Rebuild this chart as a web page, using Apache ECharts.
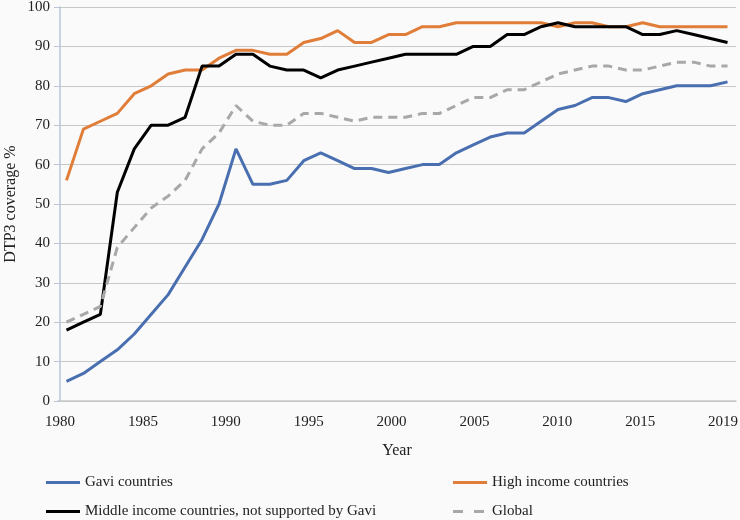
<!DOCTYPE html>
<html>
<head>
<meta charset="utf-8">
<script src="https://cdn.jsdelivr.net/npm/echarts@6/dist/echarts.min.js"></script>
<style>
  html, body { margin: 0; padding: 0; background: #fafafa; }
  #chart { width: 740px; height: 520px; }
</style>
</head>
<body>
<div id="chart"></div>
<script>
// years 1980..2019
var years = []
for (var y = 1980; y <= 2019; y++) years.push(String(y))

var tickLabels = ['1980', '1985', '1990', '1995', '2000', '2005', '2010', '2015', '2019']

var gavi = [5, 7, 10, 13, 17, 22, 27, 34, 41, 50,
            64, 55, 55, 56, 61, 63, 61, 59, 59, 58,
            59, 60, 60, 63, 65, 67, 68, 68, 71, 74,
            75, 77, 77, 76, 78, 79, 80, 80, 80, 81]

var highIncome = [56, 69, 71, 73, 78, 80, 83, 84, 84, 87,
                  89, 89, 88, 88, 91, 92, 94, 91, 91, 93,
                  93, 95, 95, 96, 96, 96, 96, 96, 96, 95,
                  96, 96, 95, 95, 96, 95, 95, 95, 95, 95]

var middleIncome = [18, 20, 22, 53, 64, 70, 70, 72, 85, 85,
                    88, 88, 85, 84, 84, 82, 84, 85, 86, 87,
                    88, 88, 88, 88, 90, 90, 93, 93, 95, 96,
                    95, 95, 95, 95, 93, 93, 94, 93, 92, 91]

var globalCov = [20, 22, 24, 39, 44, 49, 52, 56, 64, 68,
                 75, 71, 70, 70, 73, 73, 72, 71, 72, 72,
                 72, 73, 73, 75, 77, 77, 79, 79, 81, 83,
                 84, 85, 85, 84, 84, 85, 86, 86, 85, 85]

var font = "'Liberation Serif', 'DejaVu Serif', serif"
var solidIcon = 'path://M0,0h34v3h-34z'
var dashIcon = 'path://M0,0h10v3h-10z M21,0h10v3h-10z M34,0h0v3h0z'

var chart = echarts.init(document.getElementById('chart'))

function line(name, data, color, dashed) {
    return {
        name: name,
        type: 'line',
        data: data,
        xAxisIndex: 0,
        symbol: 'none',
        lineStyle: { color: color, width: 3, type: dashed ? [9, 6] : 'solid' },
        itemStyle: { color: color }
    }
}

function legendItem(name, left, top, icon) {
    return {
        left: left, top: top,
        icon: icon,
        itemWidth: 34, itemHeight: 3,
        textStyle: { fontFamily: font, fontSize: 15, color: '#222' },
        data: [name]
    }
}

var option = {
    backgroundColor: '#fafafa',
    animation: false,
    textStyle: { fontFamily: font },
    grid: { left: 58, right: 4, top: 7, bottom: 119, containLabel: false, outerBoundsMode: 'none' },
    legend: [
        legendItem('Gavi countries', 41, 470, solidIcon),
        legendItem('Middle income countries, not supported by Gavi', 41, 499, solidIcon),
        legendItem('High income countries', 448, 470, solidIcon),
        legendItem('Global', 448, 499, dashIcon)
    ],
    xAxis: [
        {
            type: 'category',
            data: years,
            boundaryGap: true,
            axisLine: { lineStyle: { color: '#c8c8c8', width: 1.5 } },
            axisTick: { show: false },
            axisLabel: { show: false }
        },
        {
            type: 'value',
            position: 'bottom',
            min: -2 / 82.875,
            max: 676 / 82.875,
            axisLine: { show: false },
            axisTick: { show: false },
            splitLine: { show: false },
            axisLabel: {
                customValues: [0, 1, 2, 3, 4, 5, 6, 7, 8],
                margin: 14,
                fontFamily: font, fontSize: 15, color: '#222',
                formatter: function (v) { return tickLabels[Math.round(v)] }
            },
            name: 'Year',
            nameLocation: 'middle',
            nameGap: 42,
            nameTextStyle: { fontFamily: font, fontSize: 16, color: '#222' }
        }
    ],
    yAxis: {
        type: 'value',
        min: 0, max: 100, interval: 10,
        name: 'DTP3 coverage %',
        nameLocation: 'middle',
        nameGap: 39,
        nameMoveOverlap: false,
        nameTextStyle: { fontFamily: font, fontSize: 16, color: '#222' },
        axisLine: { show: true, lineStyle: { color: '#b8c4d8', width: 1.5 } },
        axisTick: { show: true, length: 6, lineStyle: { color: '#b8c4d8' } },
        axisLabel: { margin: 8, fontFamily: font, fontSize: 15, color: '#222' },
        splitLine: { lineStyle: { color: '#c8c8c8', width: 1.2 } }
    },
    series: [
        line('Gavi countries', gavi, '#4a6fb0', false),
        line('High income countries', highIncome, '#e07d38', false),
        line('Middle income countries, not supported by Gavi', middleIncome, '#000000', false),
        line('Global', globalCov, '#a8a8a8', true)
    ]
}

chart.setOption(option)
</script>
</body>
</html>
